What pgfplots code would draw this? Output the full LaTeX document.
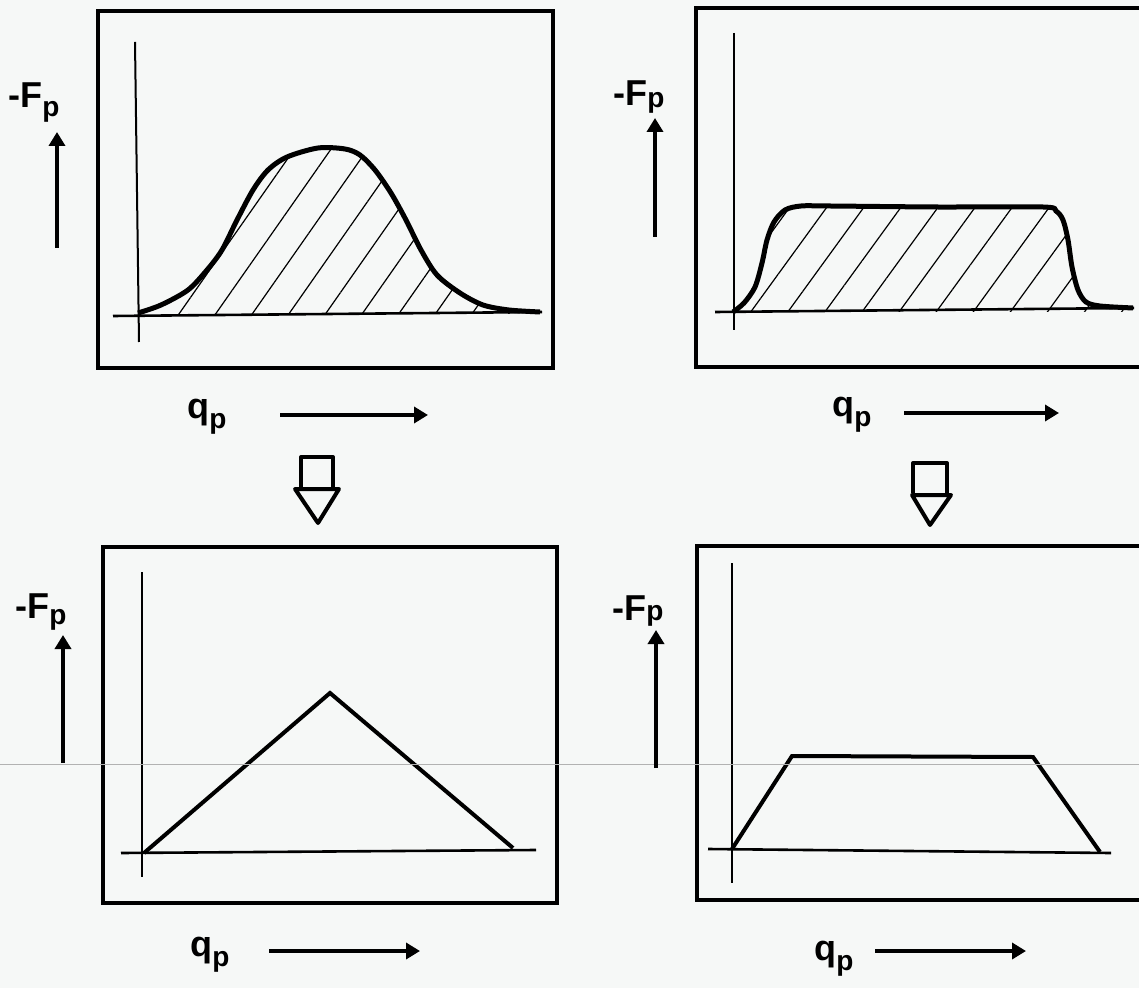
\documentclass[border=0pt]{standalone}
\usepackage{fontspec}
\setmainfont{Liberation Sans}
\usepackage{pgfplots}
\usepackage{pgfplotstable}
\pgfplotsset{compat=1.18}
\usetikzlibrary{patterns.meta,arrows.meta}
\definecolor{bg}{RGB}{246,248,247}

% Top-left: bell-shaped force curve
\pgfplotstableread{
x y
0.1 0.1
2.4 0.9
5.1 2.4
7.0 4.4
8.5 6.4
10.0 9.4
11.6 12.4
13.1 14.4
15.0 15.7
18.1 16.6
20.8 16.5
22.3 15.9
23.8 14.4
25.4 12.1
26.9 9.4
28.4 6.4
30.0 3.9
32.3 2.1
34.6 0.9
37.2 0.4
40.3 0.2
}\bellcurve

% Top-right: plateau force curve
\pgfplotstableread{
x y
-0.1 0.0
1.0 0.9
2.1 2.5
2.8 4.9
3.3 7.2
4.0 9.0
5.1 10.2
6.7 10.6
9.6 10.6
20.3 10.5
30.9 10.5
32.2 10.1
32.9 9.2
33.4 7.2
33.8 4.5
34.4 2.2
35.2 1.0
36.6 0.6
39.9 0.4
}\plateau

% Bottom-left: triangle approximation
\pgfplotstableread{
x y
0.1 0.0
18.7 16.0
37.0 0.5
}\triangleapprox

% Bottom-right: trapezoid approximation
\pgfplotstableread{
x y
0.0 0.1
6.0 9.4
30.1 9.3
36.8 -0.2
}\trapezoid

\pgfplotsset{panel/.style={x=5pt,y=5pt,anchor=south west,
  xtick=\empty,ytick=\empty,axis line style={line width=2pt},clip=false}}

\newcommand{\Flabel}[1]{\fontsize{18}{20}\selectfont\bfseries -F\raisebox{#1}{\fontsize{14}{14}\selectfont p}}
\newcommand{\qlabel}{\fontsize{18}{20}\selectfont\bfseries q\raisebox{-5pt}{\fontsize{14}{14}\selectfont p}}

\begin{document}
\begin{tikzpicture}
\path[use as bounding box] (0,0) rectangle (569.5pt,-494pt);
\fill[bg] (0,0) rectangle (569.5pt,-494pt);

% ---------- top left ----------
\begin{axis}[panel, at={(49pt,-184pt)}, xmin=-3.9, xmax=41.6, ymin=-5.4, ymax=30.3]
\addplot[black, line width=1pt] coordinates {(-0.2,27.2) (0.2,-2.8)};
\addplot[draw=none, smooth, pattern={Lines[angle=55,distance=15pt,line width=0.6pt]}, pattern color=black] table {\bellcurve} \closedcycle;
\addplot[black, line width=1.3pt] coordinates {(-2.4,-0.2) (40.5,0.2)};
\addplot[black, line width=2.5pt, smooth] table {\bellcurve};
\end{axis}

% ---------- top right ----------
\begin{axis}[panel, at={(348pt,-183.5pt)}, xmin=-3.8, xmax=41.1, ymin=-5.5, ymax=30.4]
\addplot[black, line width=1pt] coordinates {(0,27.9) (0,-1.8)};
\addplot[draw=none, smooth, pattern={Lines[angle=54,distance=15pt,line width=0.6pt]}, pattern color=black] table {\plateau} \closedcycle;
\addplot[black, line width=1.3pt] coordinates {(-1.9,0) (40.0,0.4)};
\addplot[black, line width=2.5pt, smooth] table {\plateau};
\end{axis}

% ---------- bottom left ----------
\begin{axis}[panel, at={(51.5pt,-451.5pt)}, xmin=-4.0, xmax=41.4, ymin=-5.0, ymax=30.6]
\addplot[black, line width=1pt] coordinates {(-0.1,28.1) (-0.1,-2.4)};
\addplot[black, line width=1.3pt] coordinates {(-2.2,0) (39.3,0.3)};
\addplot[black, line width=2pt] table {\triangleapprox};
\end{axis}

% ---------- bottom right ----------
\begin{axis}[panel, at={(348.5pt,-450pt)}, xmin=-3.5, xmax=41.3, ymin=-5.0, ymax=30.4]
\addplot[black, line width=1pt] coordinates {(0,28.7) (0,-3.3)};
\addplot[black, line width=1.3pt] coordinates {(-2.4,0.1) (37.9,-0.3)};
\addplot[black, line width=2pt] table {\trapezoid};
\end{axis}

% ---------- labels, arrows, transition symbols ----------
\begin{scope}[x=0.5pt,y=-0.5pt]
\draw[gray!60, line width=0.35pt] (0,764) -- (1139,764);
\tikzset{ax/.style={line width=2pt, -{Triangle[length=7pt,width=8pt]}}}
% y-axis arrows
\draw[ax] (57,248) -- (57,132);
\draw[ax] (655,237) -- (655,118);
\draw[ax] (63,763) -- (63,635);
\draw[ax] (656,768) -- (656,630);
% x-axis arrows
\draw[ax] (280,415) -- (428,415);
\draw[ax] (904,413) -- (1059,413);
\draw[ax] (269,951) -- (420,951);
\draw[ax] (875,951) -- (1026,951);
% -F_p labels
\node[anchor=base west, inner sep=0pt] at (8,108) {\Flabel{-4.5pt}};
\node[anchor=base west, inner sep=0pt] at (613,106) {\Flabel{-1pt}};
\node[anchor=base west, inner sep=0pt] at (15,618) {\Flabel{-3pt}};
\node[anchor=base west, inner sep=0pt] at (612,620) {\Flabel{0pt}};
% q_p labels
\node[anchor=base west, inner sep=0pt] at (187,419) {\qlabel};
\node[anchor=base west, inner sep=0pt] at (832,417) {\qlabel};
\node[anchor=base west, inner sep=0pt] at (190,956) {\qlabel};
\node[anchor=base west, inner sep=0pt] at (814,960) {\qlabel};
% hollow down arrows
\draw[line width=2pt, line join=round] (301,487) -- (301,457) -- (333,457) -- (333,487);
\draw[line width=2pt, line join=round] (295,489) -- (339,489) -- (318,523) -- cycle;
\draw[line width=2pt, line join=round] (913,493) -- (913,463) -- (947,463) -- (947,493);
\draw[line width=2pt, line join=round] (912,495) -- (951,495) -- (930,525) -- cycle;
\end{scope}
\end{tikzpicture}
\end{document}
